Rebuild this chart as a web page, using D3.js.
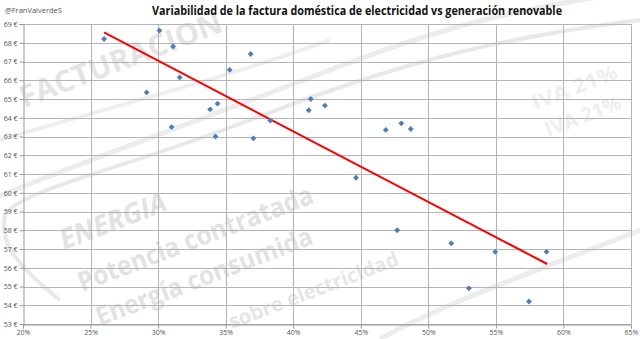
<!DOCTYPE html>
<html>
<head>
<meta charset="utf-8">
<script src="https://cdn.jsdelivr.net/npm/d3@7"></script>
<style>
  html, body { margin: 0; padding: 0; background: #fff; }
  svg { display: block; }
</style>
</head>
<body>
<svg id="chart" width="640" height="339"></svg>
<script>
// ---- Data ----
const renewable = [26.0, 30.1, 31.1, 36.85, 35.3, 31.6, 29.15, 41.3, 41.15, 34.4, 33.85, 38.3, 31.0, 34.25, 37.05, 42.35, 46.85, 48.0, 48.7, 44.65, 47.7, 51.7, 54.95, 58.75, 53.0, 57.45];
const bill      = [68.2, 68.65, 67.8, 67.4, 66.55, 66.15, 65.35, 65.0, 64.4, 64.75, 64.45, 63.85, 63.5, 63.0, 62.9, 64.65, 63.35, 63.7, 63.4, 60.8, 58.0, 57.3, 56.85, 56.85, 54.9, 54.2];
const trendX = [26.0, 58.8];
const trendY = [68.55, 56.2];
const xTicks = [20, 25, 30, 35, 40, 45, 50, 55, 60, 65];
const yTicks = [53, 54, 55, 56, 57, 58, 59, 60, 61, 62, 63, 64, 65, 66, 67, 68, 69];
const titleText = "Variabilidad de la factura doméstica de electricidad vs generación renovable";
const handle = "@FranValverdeS";
const watermarks = [
  {t: "FACTURACION", x: 24, y: 108, s: 30, len: 215, st: "normal", c: "#e4e4e4"},
  {t: "ENERGIA", x: 64, y: 250, s: 28, len: 112, st: "italic", c: "#e2e2e2"},
  {t: "Potencia contratada", x: 82, y: 292, s: 27, len: 250, st: "normal", c: "#e2e2e2"},
  {t: "Energía consumida", x: 100, y: 326, s: 26, len: 230, st: "normal", c: "#e2e2e2"},
  {t: "sobre electricidad", x: 232, y: 329, s: 20, len: 180, st: "normal", c: "#e6e6e6"},
  {t: "IVA 21%", x: 535, y: 110, s: 20, len: 90, st: "normal", c: "#eeeeee"},
  {t: "IVA 21%", x: 548, y: 137, s: 20, len: 80, st: "normal", c: "#eeeeee"}
];

// ---- Setup ----
const svg = d3.select("#chart");
const x = d3.scaleLinear().domain([20, 65]).range([23, 631]);
const y = d3.scaleLinear().domain([53, 69]).range([324, 24]);
const font = "'Open Sans', 'Liberation Sans', sans-serif";

// background watermark
const wm = svg.append("g");
wm.append("path")
  .attr("d", "M-10,200 C60,170 200,120 330,70 S520,10 640,-10")
  .attr("fill", "none").attr("stroke", "#ececec").attr("stroke-width", 5);
wm.append("path")
  .attr("d", "M60,300 C10,260 0,240 5,215 C20,190 120,170 250,120 S480,40 640,20")
  .attr("fill", "none").attr("stroke", "#e8e8e8").attr("stroke-width", 4);
wm.append("path")
  .attr("d", "M380,339 C450,300 540,270 640,230")
  .attr("fill", "none").attr("stroke", "#ececec").attr("stroke-width", 5);
wm.append("path")
  .attr("d", "M0,140 C100,110 220,80 330,40")
  .attr("fill", "none").attr("stroke", "#eeeeee").attr("stroke-width", 4);
wm.selectAll("text.wm").data(watermarks).join("text")
  .attr("class", "wm")
  .attr("transform", d => `translate(${d.x},${d.y}) rotate(-21)`)
  .attr("font-family", "'Open Sans', 'DejaVu Sans', sans-serif")
  .attr("font-size", d => d.s)
  .attr("font-weight", "bold")
  .attr("font-style", d => d.st)
  .attr("textLength", d => d.len)
  .attr("lengthAdjust", "spacingAndGlyphs")
  .attr("fill", d => d.c)
  .text(d => d.t);

// gridlines
svg.append("g").selectAll("line").data(yTicks).join("line")
  .attr("x1", x(20)).attr("x2", x(65))
  .attr("y1", d => Math.round(y(d)) + 0.5).attr("y2", d => Math.round(y(d)) + 0.5)
  .attr("stroke", "#b4b4b4").attr("stroke-width", 1);
svg.append("g").selectAll("line").data(xTicks.slice(1)).join("line")
  .attr("x1", d => Math.round(x(d)) + 0.5).attr("x2", d => Math.round(x(d)) + 0.5)
  .attr("y1", y(69)).attr("y2", y(53))
  .attr("stroke", "#b4b4b4").attr("stroke-width", 1);

// axes
const yAxis = d3.axisLeft(y).tickValues(yTicks).tickSize(4).tickFormat(d => d + " €");
const xAxis = d3.axisBottom(x).tickValues(xTicks).tickSize(4).tickFormat(d => d + "%");
const gy = svg.append("g").attr("transform", `translate(${Math.round(x(20)) + 0.5},0)`).call(yAxis);
const gx = svg.append("g").attr("transform", `translate(0,${Math.round(y(53)) + 0.5})`).call(xAxis);
[gy, gx].forEach(g => {
  g.select(".domain").attr("stroke", "#999");
  g.selectAll(".tick line").attr("stroke", "#999");
  g.selectAll(".tick text").attr("fill", "#555").attr("font-size", 7).attr("font-family", font);
});
gy.selectAll(".tick text").attr("x", -6);
gx.selectAll(".tick text").attr("y", 6);

// trend line
svg.append("line")
  .attr("x1", x(trendX[0])).attr("y1", y(trendY[0]))
  .attr("x2", x(trendX[1])).attr("y2", y(trendY[1]))
  .attr("stroke", "#ff0000").attr("stroke-width", 2);

// points
const pts = renewable.map((r, i) => ({r, b: bill[i]}));
svg.append("g").selectAll("path").data(pts).join("path")
  .attr("d", d3.symbol(d3.symbolSquare, 17))
  .attr("transform", d => `translate(${x(d.r)},${y(d.b)}) rotate(45)`)
  .attr("fill", "#4a7ebb");

// title & handle
svg.append("text")
  .attr("x", 357).attr("y", 15)
  .attr("text-anchor", "middle")
  .attr("font-family", font)
  .attr("font-weight", "bold")
  .attr("font-size", 12)
  .attr("textLength", 410)
  .attr("lengthAdjust", "spacingAndGlyphs")
  .attr("fill", "#111")
  .text(titleText);
svg.append("text")
  .attr("x", 5).attr("y", 13)
  .attr("font-family", font)
  .attr("font-size", 7.5)
  .attr("fill", "#555")
  .text(handle);
</script>
</body>
</html>
